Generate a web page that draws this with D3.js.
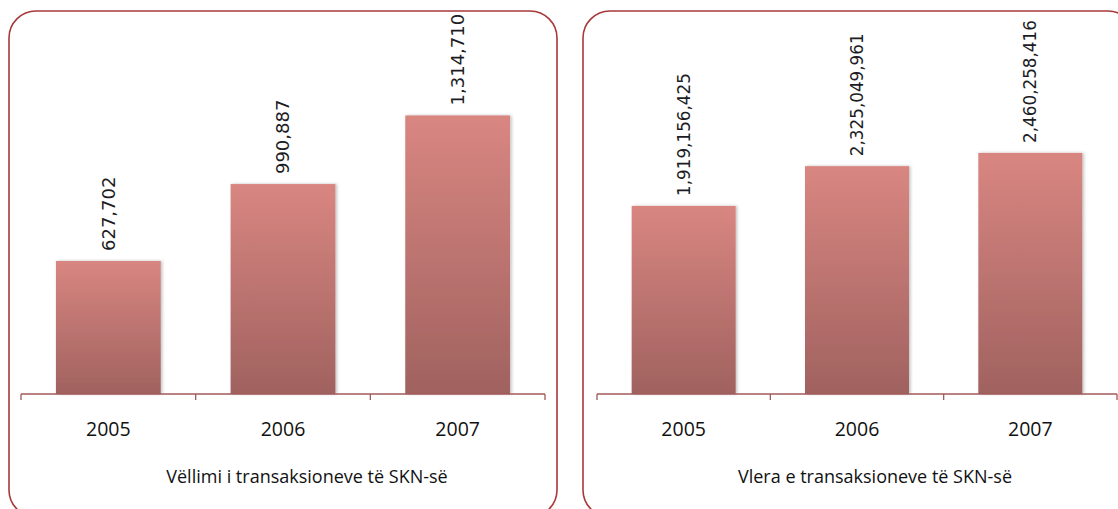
<!DOCTYPE html>
<html>
<head>
<meta charset="utf-8">
<style>
body { margin: 0; background: #fff; }
.panel { fill: #fff; stroke: #a8393b; stroke-width: 1.6px; }
.axis-line { stroke: #a05a58; stroke-width: 1.3px; fill: none; }
.val { font-family: "DejaVu Sans", sans-serif; fill: #1c1c24; }
.cat { font-family: "Open Sans", sans-serif; font-size: 19.5px; fill: #111; }
.ttl { font-family: "Open Sans", sans-serif; font-size: 18px; fill: #111; }
</style>
</head>
<body>
<svg width="1118" height="509"></svg>
<script src="https://d3js.org/d3.v7.min.js"></script>
<script>
var years = ["2005", "2006", "2007"];
var volume = [627702, 990887, 1314710];
var value = [1919156425, 2325049961, 2460258416];
var titles = ["Vëllimi i transaksioneve të SKN-së", "Vlera e transaksioneve të SKN-së"];

var svg = d3.select("svg");

var defs = svg.append("defs");
var grad = defs.append("linearGradient")
    .attr("id", "barfill")
    .attr("x1", 0).attr("y1", 0).attr("x2", 0).attr("y2", 1);
grad.append("stop").attr("offset", "0%").attr("stop-color", "#d98681");
grad.append("stop").attr("offset", "100%").attr("stop-color", "#a0625f");

var shadow = defs.append("filter").attr("id", "shadow")
    .attr("x", "-10%").attr("y", "-10%").attr("width", "130%").attr("height", "120%");
shadow.append("feDropShadow")
    .attr("dx", 1.5).attr("dy", 0).attr("stdDeviation", 1.5)
    .attr("flood-color", "#000").attr("flood-opacity", 0.25);

var baseY = 394;

function panel(cfg) {
  var g = svg.append("g");

  g.append("rect")
      .attr("class", "panel")
      .attr("x", cfg.box[0]).attr("y", cfg.box[1])
      .attr("width", cfg.box[2]).attr("height", cfg.box[3])
      .attr("rx", 27).attr("ry", 27);

  var x = d3.scaleBand()
      .domain(years)
      .range(cfg.range)
      .paddingInner(0.4)
      .paddingOuter(0.2);

  var y = d3.scaleLinear()
      .domain([0, cfg.max])
      .range([baseY, baseY - cfg.h]);

  g.selectAll(".bar")
      .data(cfg.data)
    .enter().append("rect")
      .attr("class", "bar")
      .attr("x", function(d, i) { return x(years[i]); })
      .attr("y", function(d) { return y(d); })
      .attr("width", x.bandwidth())
      .attr("height", function(d) { return baseY - y(d); })
      .attr("fill", "url(#barfill)")
      .attr("filter", "url(#shadow)");

  // axis line and ticks at category boundaries
  g.append("line")
      .attr("class", "axis-line")
      .attr("x1", cfg.range[0]).attr("x2", cfg.range[1])
      .attr("y1", baseY).attr("y2", baseY);

  var half = x.step() * x.paddingInner() / 2;
  var edges = [cfg.range[0]].concat(years.slice(1).map(function(d) { return x(d) - half; }), [cfg.range[1]]);
  g.selectAll(".tick")
      .data(edges)
    .enter().append("line")
      .attr("class", "axis-line")
      .attr("x1", function(d) { return d; }).attr("x2", function(d) { return d; })
      .attr("y1", baseY).attr("y2", baseY + 6);

  g.selectAll(".cat")
      .data(years)
    .enter().append("text")
      .attr("class", "cat")
      .attr("x", function(d) { return x(d) + x.bandwidth() / 2; })
      .attr("y", 436)
      .attr("text-anchor", "middle")
      .text(function(d) { return d; });

  g.selectAll(".val")
      .data(cfg.data)
    .enter().append("text")
      .attr("class", "val")
      .style("font-size", cfg.fs + "px")
      .attr("transform", function(d, i) {
        return "translate(" + (x(years[i]) + x.bandwidth() / 2 + cfg.fs * 0.36) + "," + (y(d) - 10) + ") rotate(-90)";
      })
      .text(function(d) { return d3.format(",")(d); });

  g.append("text")
      .attr("class", "ttl")
      .attr("x", (cfg.range[0] + cfg.range[1]) / 2 + cfg.tdx)
      .attr("y", 483)
      .attr("text-anchor", "middle")
      .text(cfg.title);
}

panel({ box: [9, 11, 548, 506], range: [21, 545], data: volume, max: 1600000, h: 339, fs: 18, tdx: 24, title: titles[0] });
panel({ box: [583, 11, 552, 506], range: [597, 1117], data: value, max: 3000000000, h: 294, fs: 16.8, tdx: 18, title: titles[1] });
</script>
</body>
</html>
